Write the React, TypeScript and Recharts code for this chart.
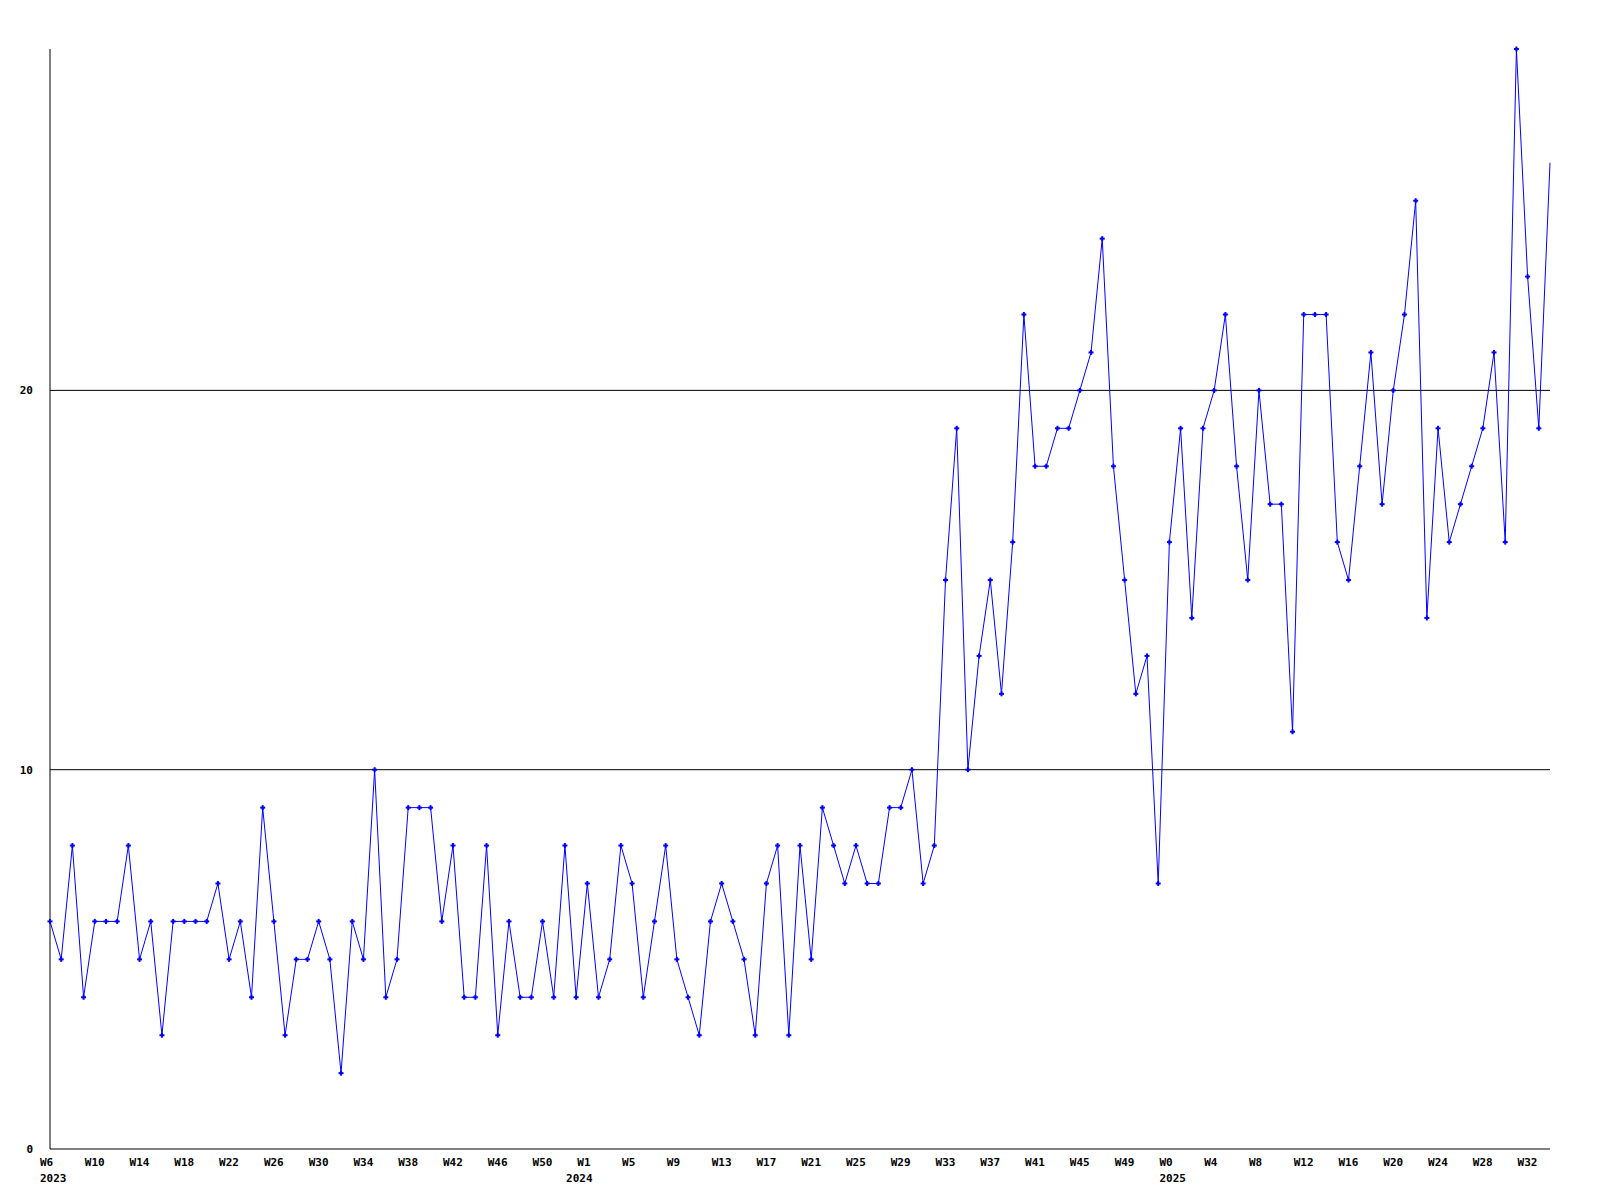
import React from "react";
import { LineChart, Line, XAxis, YAxis, ReferenceLine } from "recharts";

// Weekly values, split by year
const values2023 = [6, 5, 8, 4, 6, 6, 6, 8, 5, 6, 3, 6, 6, 6, 6, 7, 5, 6, 4, 9, 6, 3, 5, 5, 6, 5, 2, 6, 5, 10, 4, 5, 9, 9, 9, 6, 8, 4, 4, 8, 3, 6, 4, 4, 6, 4, 8];
const values2024 = [4, 7, 4, 5, 8, 7, 4, 6, 8, 5, 4, 3, 6, 7, 6, 5, 3, 7, 8, 3, 8, 5, 9, 8, 7, 8, 7, 7, 9, 9, 10, 7, 8, 15, 19, 10, 13, 15, 12, 16, 22, 18, 18, 19, 19, 20, 21, 24, 18, 15, 12, 13, 7];
const values2025 = [16, 19, 14, 19, 20, 22, 18, 15, 20, 17, 17, 11, 22, 22, 22, 16, 15, 18, 21, 17, 20, 22, 25, 14, 19, 16, 17, 18, 19, 21, 16, 29, 23, 19, 26];

// First week number of each year's series
const years = ["2023", "2024", "2025"];
const firstWeek = [6, 0, 0];
const yTicks = [0, 10, 20];
const gridValues = [10, 20];
const tickStep = 4;

const series = [values2023, values2024, values2025];
const data: { i: number; year: string; week: string; v: number; first: boolean }[] = [];
series.forEach((vals, yi) => {
  vals.forEach((v, k) => {
    data.push({ i: data.length, year: years[yi], week: "W" + (firstWeek[yi] + k), v, first: k === 0 });
  });
});
const lastIndex = data.length - 1;
const xTicks = data.filter((d) => d.i % tickStep === 0 || d.first).map((d) => d.i);

const FONT = "'DejaVu Sans Mono', monospace";

const XTick = (props: any) => {
  const { x, y, payload } = props;
  const d = data[payload.value];
  if (!d) return null;
  return (
    <g>
      {d.i % tickStep === 0 && (
        <text x={x - 10} y={y + 13} dy="0.35em" textAnchor="start" fontFamily={FONT} fontSize={11} fontWeight="bold" fill="#000">
          {d.week}
        </text>
      )}
      {d.first && (
        <text x={x - 10} y={y + 29} dy="0.35em" textAnchor="start" fontFamily={FONT} fontSize={11} fontWeight="bold" fill="#000">
          {d.year}
        </text>
      )}
    </g>
  );
};

const PlusDot = (props: any) => {
  const { cx, cy, index } = props;
  if (index === lastIndex || cx == null || cy == null) return <g key={index} />;
  return (
    <g key={index}>
      <rect x={cx - 2.5} y={cy - 1} width={5} height={2} fill="#0000ff" />
      <rect x={cx - 1} y={cy - 2.5} width={2} height={5} fill="#0000ff" />
    </g>
  );
};

export default function App() {
  return (
    <div style={{ width: 1592, height: 1192, background: "#fff" }}>
      <LineChart width={1592} height={1192} data={data} margin={{ top: 41, right: 50, left: 0, bottom: 1 }}>
        <XAxis
          dataKey="i"
          type="number"
          domain={[0, lastIndex]}
          ticks={xTicks}
          interval={0}
          height={50}
          tickLine={false}
          tickSize={0}
          tickMargin={0}
          axisLine={{ stroke: "#000", strokeWidth: 1 }}
          tick={<XTick />}
        />
        <YAxis
          domain={[0, 29]}
          ticks={yTicks}
          width={42}
          tickLine={false}
          tickSize={0}
          tickMargin={17}
          interval={0}
          axisLine={{ stroke: "#000", strokeWidth: 1 }}
          tick={{ fill: "#000", fontFamily: FONT, fontSize: 11, fontWeight: "bold" }}
        />
        {gridValues.map((g) => (
          <ReferenceLine key={g} y={g} stroke="#000" strokeWidth={1} />
        ))}
        <Line type="linear" dataKey="v" stroke="#0000ff" strokeWidth={1} dot={<PlusDot />} activeDot={false} isAnimationActive={false} />
      </LineChart>
    </div>
  );
}
